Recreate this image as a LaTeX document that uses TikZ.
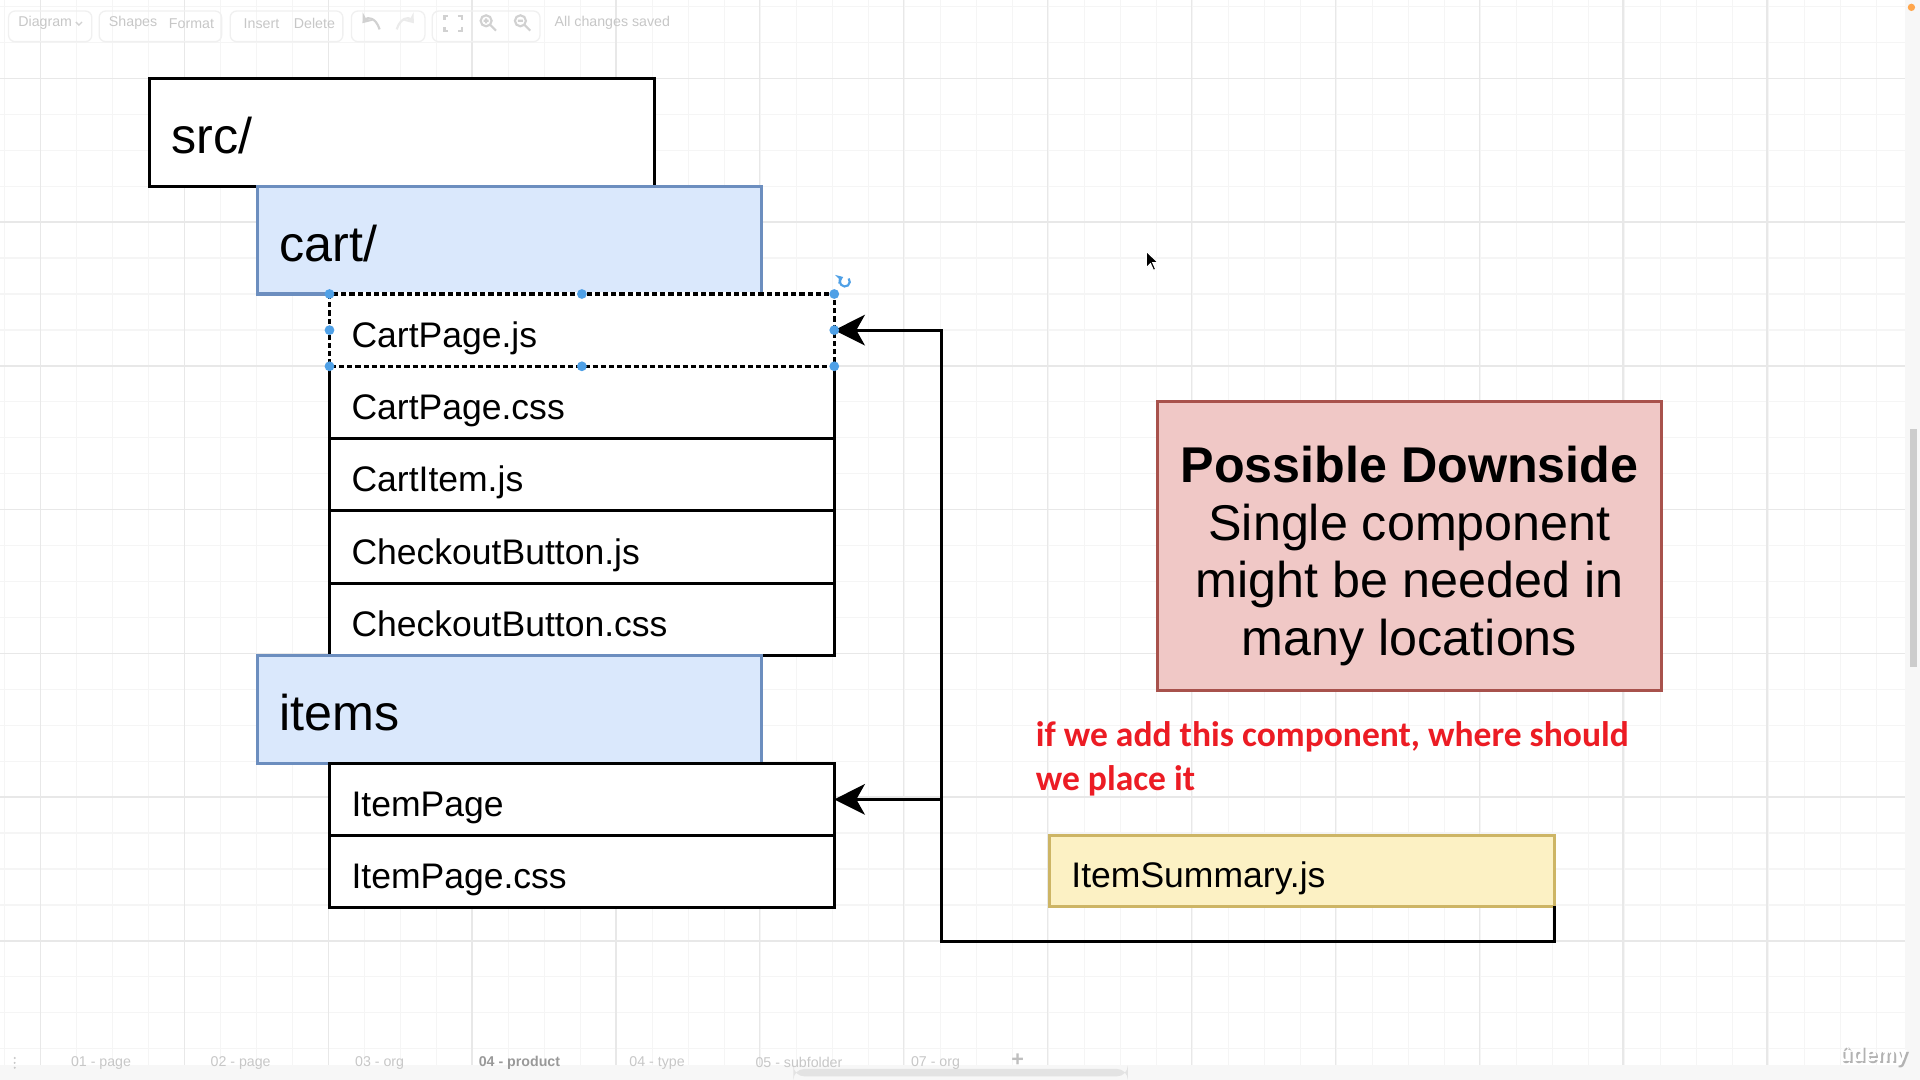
\documentclass[tikz,border=0pt]{standalone}
\usepackage{fontspec}
\setmainfont{Liberation Sans}
\newfontfamily\notefont{Carlito}
\usetikzlibrary{positioning}
\usetikzlibrary{arrows.meta}

\definecolor{folderfill}{HTML}{DAE8FC}
\definecolor{folderline}{HTML}{6C8EBF}
\definecolor{downsidefill}{HTML}{F0C8C6}
\definecolor{downsideline}{HTML}{A8524C}
\definecolor{summaryfill}{HTML}{FCF1C4}
\definecolor{summaryline}{HTML}{CDB565}
\definecolor{notered}{HTML}{EC1C24}
\definecolor{handleblue}{HTML}{4FA0E6}

\begin{document}
\begin{tikzpicture}[x=0.01cm, y=-0.01cm,
            every node/.style={outer sep=0pt},
            entry/.style={draw=black, line width=0.7pt, fill=white, inner xsep=0.18cm, inner ysep=0pt,
                          align=left, minimum width=4.12cm, text width=3.76cm,
                          text height=1em, text depth=0pt},
            folderbox/.style={entry, minimum height=0.88cm, font=\fontsize{11.67}{14}\selectfont},
            subfolder/.style={folderbox, draw=folderline, fill=folderfill},
            filebox/.style={entry, minimum height=0.59cm, text height=0.8em, font=\fontsize{8.25}{10}\selectfont},
            link/.style={draw=black, line width=0.7pt, -{Stealth[length=0.25cm, width=0.25cm, inset=0.07cm]}},
            grid minor/.style={draw=black!4, line width=0.3pt},
            grid major/.style={draw=black!9, line width=0.3pt},
            uitext/.style={text=black!22, inner sep=0pt, font=\fontsize{3.3}{4}\selectfont},
            toolgroup/.style={draw=black!6, line width=0.3pt, rounded corners=1.5pt},
            toolicon/.style={draw=black!18, line width=0.5pt}]

\useasboundingbox (0,0) rectangle (1568,882);
\fill[white] (0,0) rectangle (1568,882);

% grid
\foreach \gx in {3.6,33,...,1568} \draw[grid minor] (\gx,0) -- (\gx,882);
\foreach \gy in {5.3,34.65,...,882} \draw[grid minor] (0,\gy) -- (1568,\gy);
\foreach \gx in {33,150.5,...,1568} \draw[grid major] (\gx,0) -- (\gx,882);
\foreach \gy in {64,181.4,...,882} \draw[grid major] (0,\gy) -- (1568,\gy);

% toolbar
\draw[toolgroup] (7,9) rectangle (75,34);
\draw[toolgroup] (81,9) rectangle (181,34);
\draw[toolgroup] (188,9) rectangle (280,34);
\draw[toolgroup] (287,9) rectangle (347,34);
\draw[toolgroup] (353,9) rectangle (441,34);
\node[uitext, anchor=west] (tbdiagram) at (15,19) {Diagram};
\draw[toolicon, line width=0.3pt] (62,18) -- (64.5,20.5) -- (67,18);
\node[uitext, anchor=west] (tbshapes) at (89,19) {Shapes};
\node[uitext, anchor=west] (tbformat) at (138,19) {Format};
\node[uitext, anchor=west] (tbinsert) at (199,19) {Insert};
\node[uitext, anchor=west] (tbdelete) at (240,19) {Delete};
\node[uitext, anchor=west] (tbsaved) at (453,19) {All changes saved};
\draw[toolicon, -{Stealth[length=2pt, width=3pt]}] (310,24) .. controls (307,14) and (300,14) .. (296,19);
\draw[black!8, line width=0.5pt, -{Stealth[length=2pt, width=3pt]}] (324,24) .. controls (327,14) and (334,14) .. (338,19);
\draw[toolicon] (363,16) -- (363,13) -- (366,13) (374,13) -- (377,13) -- (377,16)
                (377,22) -- (377,25) -- (374,25) (366,25) -- (363,25) -- (363,22);
\draw[toolicon] (397,17) circle (4.5) (400.5,20.5) -- (405,25) (395,17) -- (399,17) (397,15) -- (397,19);
\draw[toolicon] (425,17) circle (4.5) (428.5,20.5) -- (433,25) (423,17) -- (427,17);

% folders and files
\node[folderbox, anchor=north west] (src) at (122,64) {src/};
\node[subfolder, below right=0cm and 0.88cm of src.south west] (cart) {cart/};
\node[filebox, below right=0cm and 0.59cm of cart.south west] (cartpage) {CartPage.js};
\node[filebox, below=0cm of cartpage] (cartcss) {CartPage.css};
\node[filebox, below=0cm of cartcss] (cartitem) {CartItem.js};
\node[filebox, below=0cm of cartitem] (checkout) {CheckoutButton.js};
\node[filebox, below=0cm of checkout] (checkoutcss) {CheckoutButton.css};
\node[subfolder, below left=0cm and 0.59cm of checkoutcss.south west, anchor=north west] (items) {items};
\node[filebox, below right=0cm and 0.59cm of items.south west] (itempage) {ItemPage};
\node[filebox, below=0cm of itempage] (itemcss) {ItemPage.css};

% downside and new component
\node[draw=downsideline, fill=downsidefill, line width=0.7pt, anchor=north west,
      minimum width=4.12cm, minimum height=2.36cm, align=center,
      font=\fontsize{11.67}{13.37}\selectfont] (downside) at (945,328)
     {\rule{0pt}{0.46cm}\textbf{Possible Downside}\\Single component\\might be needed in\\many locations};
\node[text=notered, anchor=north west, inner sep=0pt, align=left,
      font=\notefont\bfseries\fontsize{8.25}{10.24}\selectfont] (note) at (846,589)
     {if we add this component, where should\\we place it};
\node[filebox, draw=summaryline, fill=summaryfill, anchor=north west, minimum height=0.58cm] (summary) at (857,682) {ItemSummary.js};

% connectors
\coordinate (turn) at (769,769);
\draw[link] (summary.south east) |- (turn) |- (cartpage.east);
\draw[link] (turn |- itempage.east) -- (itempage.east);

% selection of CartPage.js
\draw[white, line width=0.7pt] (cartpage.north west) rectangle (cartpage.south east);
\draw[black, line width=0.7pt, dash pattern=on 1.2pt off 0.7pt] (cartpage.north west) rectangle (cartpage.south east);
\foreach \a in {north west, north, north east, east, south east, south, south west, west}
    \fill[handleblue] (cartpage.\a) circle (4);
\draw[handleblue, line width=0.5pt, -{Stealth[length=1.6pt, width=2.2pt]}] (690,230) ++(-40:4) arc (-40:250:4);

% mouse pointer
\filldraw[fill=black, draw=white, line width=0.3pt]
    (936,205) -- (936,219) -- (939.5,215.5) -- (942,221) -- (944,220) -- (941.5,214.5) -- (946,214.5) -- cycle;

% window frame, tabs, scrollbars
\fill[black!3] (1556,0) rectangle (1568,882);
\fill[black!20] (1559.5,350) rectangle (1565.5,545);
\fill[orange!70] (1561,6) circle (3);
\fill[black!3] (0,870) rectangle (1556,882);
\fill[black!11, rounded corners=2.5pt] (648,873) rectangle (921,879);
\node[uitext, anchor=west] (tab01) at (58,868) {01 - page};
\node[uitext, anchor=west] (tab02) at (172,868) {02 - page};
\node[uitext, anchor=west] (tab03) at (290,868) {03 - org};
\node[uitext, anchor=west, text=black!40, font=\bfseries\fontsize{3.3}{4}\selectfont] (tab04) at (391,868) {04 - product};
\node[uitext, anchor=west] (tab05) at (514,868) {04 - type};
\node[uitext, anchor=west] (tab06) at (617,868) {05 - subfolder};
\node[uitext, anchor=west] (tab07) at (744,868) {07 - org};
\node[uitext, anchor=center, text=black!25, font=\bfseries\fontsize{5}{5}\selectfont] (tabadd) at (831,866) {+};
\fill[black!22] (12,864) circle (0.9) (12,868) circle (0.9) (12,872) circle (0.9);
\node[text=black!30, inner sep=0pt, font=\bfseries\fontsize{4.9}{5}\selectfont] (udemyshadow) at (1531.5,863.5) {ûdemy};
\node[text=white, inner sep=0pt, font=\bfseries\fontsize{4.9}{5}\selectfont] (udemy) at (1530,862) {ûdemy};
\end{tikzpicture}
\end{document}
